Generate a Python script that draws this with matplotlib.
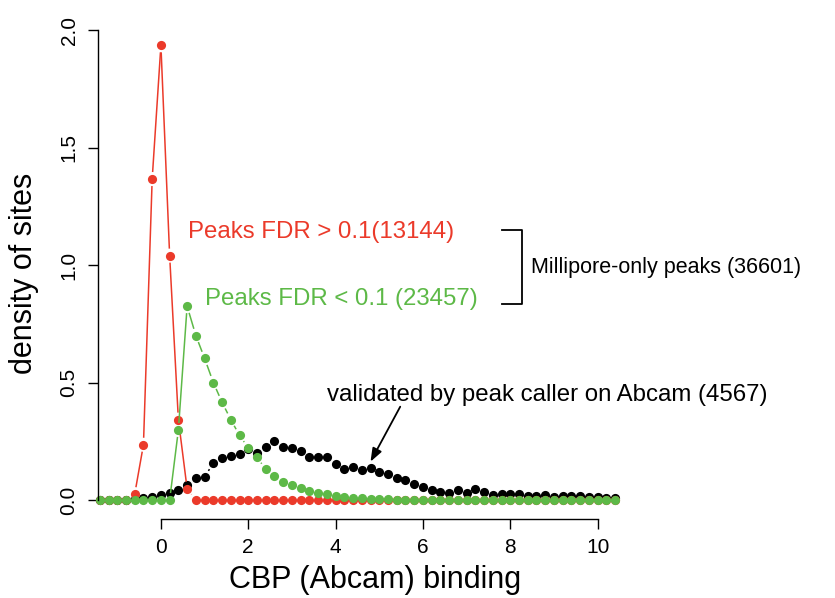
import numpy as np
import matplotlib
import matplotlib.pyplot as plt

matplotlib.use('Agg')
plt.rcParams['font.family'] = ['Liberation Sans', 'DejaVu Sans']

# binned CBP (Abcam) binding values, step 0.2
x_bins = np.round(np.arange(-1.4, 10.41, 0.2), 1)

# Peaks FDR > 0.1 (red)
red_density = [0.0, 0.0, 0.0, 0.0, 0.025, 0.235, 1.366, 1.935, 1.04, 0.342, 0.048,
               0.0, 0.0, 0.0, 0.0, 0.0, 0.0, 0.0, 0.0, 0.0, 0.0, 0.0, 0.0, 0.0,
               0.0, 0.0, 0.0, 0.0, 0.0, 0.0, 0.0, 0.0, 0.0, 0.0, 0.0, 0.0, 0.0,
               0.0, 0.0, 0.0, 0.0, 0.0, 0.0, 0.0, 0.0, 0.0, 0.0, 0.0, 0.0, 0.0,
               0.0, 0.0, 0.0, 0.0, 0.0, 0.0, 0.0, 0.0, 0.0, 0.0]

# Peaks FDR < 0.1 (green)
green_density = [0.0, 0.0, 0.0, 0.0, 0.0, 0.0, 0.0, 0.0, 0.0, 0.298, 0.825,
                 0.70, 0.603, 0.50, 0.416, 0.342, 0.275, 0.222, 0.183, 0.13, 0.104,
                 0.078, 0.062, 0.05, 0.038, 0.031, 0.024, 0.017, 0.012, 0.009,
                 0.007, 0.005, 0.004, 0.003, 0.002, 0.002, 0.001, 0.001, 0.0, 0.0,
                 0.0, 0.0, 0.0, 0.0, 0.0, 0.0, 0.0, 0.0, 0.0, 0.0, 0.0, 0.0, 0.0,
                 0.0, 0.0, 0.0, 0.0, 0.0, 0.0, 0.0]

# validated by peak caller on Abcam (black)
black_density = [0.0, 0.0, 0.0, 0.002, 0.004, 0.007, 0.014, 0.021, 0.028, 0.043,
                 0.065, 0.092, 0.099, 0.156, 0.178, 0.187, 0.196, 0.215, 0.200,
                 0.227, 0.253, 0.227, 0.220, 0.208, 0.184, 0.184, 0.184, 0.152,
                 0.130, 0.142, 0.128, 0.135, 0.120, 0.109, 0.092, 0.083, 0.069,
                 0.056, 0.043, 0.035, 0.028, 0.043, 0.031, 0.045, 0.035, 0.021,
                 0.024, 0.024, 0.024, 0.019, 0.018, 0.022, 0.013, 0.017, 0.016,
                 0.015, 0.013, 0.013, 0.010, 0.009]

RED = '#EB3A2A'
GREEN = '#5DB947'
BLACK = '#000000'

fig = plt.figure(figsize=(8.35, 5.98), dpi=100)
ax = fig.add_axes([0.1174, 0.1321, 0.6647, 0.8227])
ax.set_xlim(-1.44, 11.27)
ax.set_ylim(-0.081, 2.013)


def plot_type_b(ax, x, y, color, ms=6.6, gap_px=7.0):
    # R-style type="b": points joined by segments that stop short of each point
    pts = ax.transData.transform(np.column_stack([x, y]))
    inv = ax.transData.inverted()
    for (x0, y0), (x1, y1) in zip(pts[:-1], pts[1:]):
        d = np.hypot(x1 - x0, y1 - y0)
        if d <= 2 * gap_px:
            continue
        ux, uy = (x1 - x0) / d, (y1 - y0) / d
        a = inv.transform((x0 + ux * gap_px, y0 + uy * gap_px))
        b = inv.transform((x1 - ux * gap_px, y1 - uy * gap_px))
        ax.plot([a[0], b[0]], [a[1], b[1]], color=color, lw=1.1,
                solid_capstyle='butt', clip_on=False)
    ax.plot(x, y, 'o', color=color, ms=ms, mec='none', clip_on=False)


plot_type_b(ax, x_bins, black_density, BLACK)
plot_type_b(ax, x_bins, red_density, RED)
plot_type_b(ax, x_bins, green_density, GREEN)

# R-like axes
for s in ['top', 'right']:
    ax.spines[s].set_visible(False)
ax.spines['left'].set_bounds(0, 2)
ax.spines['bottom'].set_bounds(0, 10)
for s in ['left', 'bottom']:
    ax.spines[s].set_linewidth(1.0)
ax.set_xticks([0, 2, 4, 6, 8, 10])
ax.set_yticks([0.0, 0.5, 1.0, 1.5, 2.0])
ax.set_yticklabels(['0.0', '0.5', '1.0', '1.5', '2.0'], rotation=90, va='center')
ax.tick_params(direction='out', length=7, width=1.0, labelsize=15, pad=7)

ax.set_xlabel('CBP (Abcam) binding', fontsize=22)
ax.set_ylabel('density of sites', fontsize=22)
ax.xaxis.set_label_coords(0.5, -0.0935)
ax.yaxis.set_label_coords(-0.1063, 0.5)

# annotations
ax.text(0.62, 1.14, 'Peaks FDR > 0.1(13144)', color=RED, fontsize=17.3,
        va='center', ha='left', clip_on=False)
ax.text(1.01, 0.855, 'Peaks FDR < 0.1 (23457)', color=GREEN, fontsize=17.3,
        va='center', ha='left', clip_on=False)
ax.text(8.47, 0.991, 'Millipore-only peaks (36601)', color=BLACK, fontsize=15.5,
        va='center', ha='left', clip_on=False)
ax.plot([7.8, 8.28, 8.28, 7.8], [1.149, 1.149, 0.834, 0.834], color=BLACK,
        lw=1.3, clip_on=False)
ax.text(3.80, 0.447, 'validated by peak caller on Abcam (4567)', color=BLACK,
        fontsize=17.3, va='center', ha='left', clip_on=False)
ax.annotate('', xy=(4.80, 0.163), xytext=(5.48, 0.397),
            arrowprops=dict(arrowstyle='-|>,head_length=0.8,head_width=0.3',
                            color=BLACK, lw=1.3, shrinkA=0, shrinkB=0))

plt.savefig('out.png', dpi=100, facecolor='white')
plt.close()
